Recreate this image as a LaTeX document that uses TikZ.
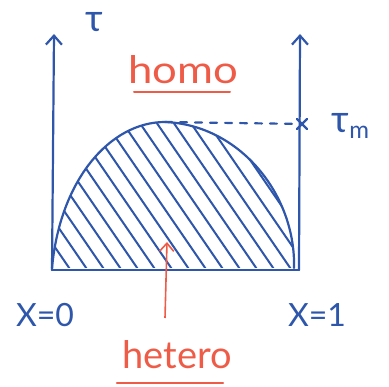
\documentclass[tikz,border=0pt]{standalone}
\usepackage{fontspec}
\setmainfont{Lato}
\usetikzlibrary{arrows.meta}
\definecolor{pen}{RGB}{46,86,170}
\definecolor{redpen}{RGB}{238,92,72}

\begin{document}
\begin{tikzpicture}[x=1pt,y=-1pt,
    line/.style={pen,line width=2.2pt,line cap=round,line join=round},
    axis/.style={line,-{Straight Barb[length=9pt,width=16pt]}},
    hatch/.style={pen,line width=2pt,line cap=round},
    lbl/.style={pen,font=\fontsize{32}{36}\selectfont},
    redlbl/.style={redpen,font=\fontsize{38}{40}\selectfont},
    uline/.style={redpen,line width=2pt,line cap=round},
    redarrow/.style={redpen,line width=1.6pt,-{Straight Barb[length=8pt,width=14pt]}}]

  \useasboundingbox (0,0) rectangle (389,387);

  %% ---- Axes ----
  \coordinate (o0) at (52,270);
  \coordinate (o1) at (299,270);
  \coordinate (top0) at (54,34);
  \coordinate (top1) at (300,34);
  \draw[axis] (o0) -- (top0);
  \draw[axis] (o1) -- (top1);
  \draw[line] (o0) -- (o1);
  \node[lbl,font=\fontsize{38}{40}\selectfont] (tau) at (94,22) {τ};

  %% ---- Dome (hatched) ----
  \coordinate (peak) at (165,122);
  \begin{scope}
    \clip (52,268) .. controls (60,180) and (110,122) .. (peak)
      .. controls (240,125) and (296,195) .. (294,268) -- cycle;
    \foreach \k in {0,...,18} {
      \draw[hatch] ({-63+\k*17},100) -- ++(120,175);
    }
  \end{scope}
  \draw[line] (52,268) .. controls (60,180) and (110,122) .. (peak)
    .. controls (240,125) and (296,195) .. (294,268);

  %% ---- Maximum ----
  \coordinate (tm) at (302,124);
  \draw[line,dash pattern=on 7pt off 8pt] (peak) -- (tm);
  \draw[line] (tm) +(-5,-5) -- +(5,5) (tm) +(-5,5) -- +(5,-5);
  \node[lbl,anchor=west,font=\fontsize{38}{40}\selectfont] (taum) at (328,126)
    {τ\raisebox{-6pt}{\fontsize{24}{24}\selectfont m}};

  %% ---- Labels ----
  \node[redlbl,xscale=1.15] (homo) at (183,70) {homo};
  \draw[uline] ([xshift=10pt,yshift=-4pt]homo.south west) -- ([xshift=-12pt,yshift=-4pt]homo.south east);
  \node[redlbl] (hetero) at (177,355) {hetero};
  \draw[uline] ([xshift=-2pt,yshift=-10pt]hetero.south west) -- ([xshift=-12pt,yshift=-10pt]hetero.south east);

  \coordinate (hs) at (165,318);
  \coordinate (ht) at (167,242);
  \draw[redarrow] (hs) -- (ht);

  \node[lbl] (x0) at (45,315) {X=0};
  \node[lbl] (x1) at (317,315) {X=1};

\end{tikzpicture}
\end{document}
